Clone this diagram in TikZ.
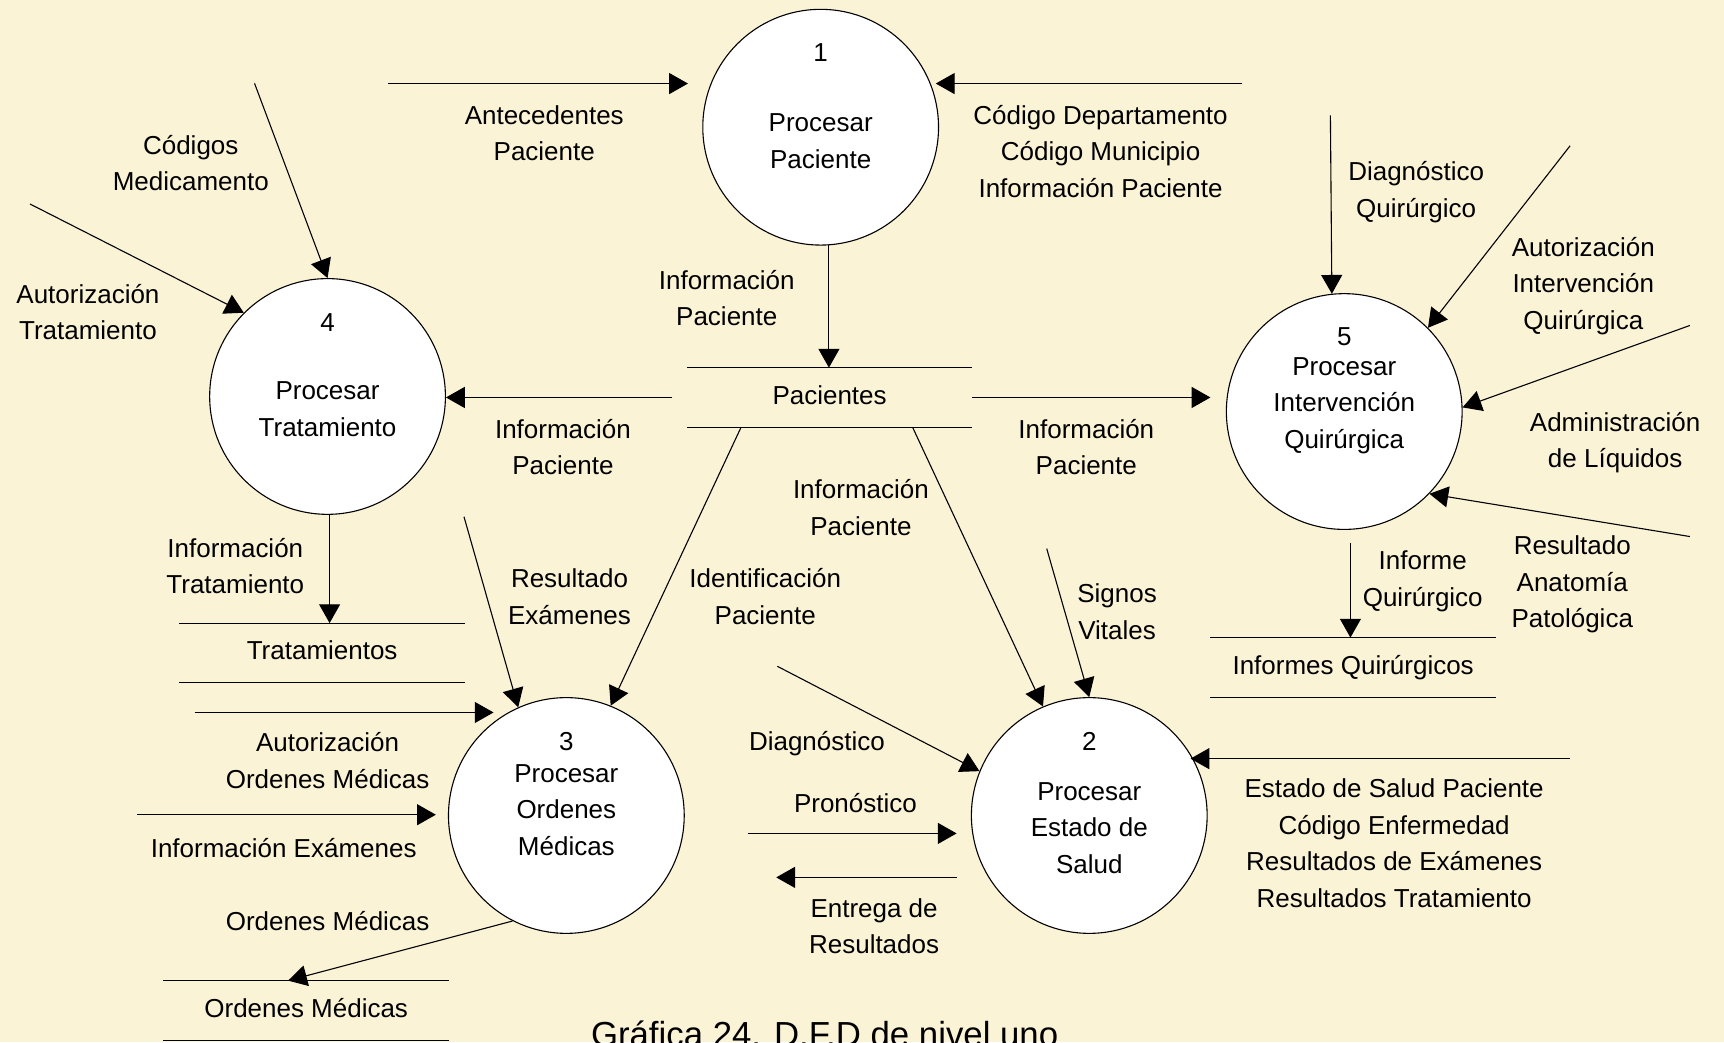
\documentclass[tikz,border=0pt]{standalone}
\usepackage{fontspec}
\setmainfont{Liberation Sans}
\usetikzlibrary{arrows.meta}
\newdimen\pxu \pxu=0.55pt
\definecolor{paper}{HTML}{FBF3D6}

\begin{document}
\begin{tikzpicture}[x=0.55pt, y=-0.55pt,
  every node/.style={font=\fontsize{13pt}{18.3pt}\selectfont, inner sep=0pt, align=center},
  proc/.style={circle, draw=black, line width=0.55pt, fill=white, minimum size=214.4\pxu},
  store/.style={minimum width=259\pxu, minimum height=53.5\pxu, text height=9.3pt, text depth=2.5pt},
  flow/.style={draw=black, line width=0.55pt, -{Triangle[length=9.4pt,width=10.5pt]}},
  figcap/.style={font=\fontsize{17.4pt}{21pt}\selectfont, anchor=base}]

% page
\fill[paper] (0,0) rectangle (1568,948);
\useasboundingbox (0,0) rectangle (1568,948);
\clip (0,0) rectangle (1568,948);

% processes
\node[proc] (p1) at (746.4,115.7) {};
\node[proc] (p4) at (297.9,360.6) {};
\node[proc] (p5) at (1222.6,374.3) {};
\node[proc] (p3) at (515.1,741.7) {};
\node[proc] (p2) at (990.7,741.7) {};

\node (p1n) at (746.4,47.9) {1};
\node (p1t) at (746.4,128.2) {Procesar\\Paciente};
\node (p4n) at (297.9,293.5) {4};
\node (p4t) at (297.9,372) {Procesar\\Tratamiento};
\node (p5n) at (1222.6,306.5) {5};
\node (p5t) at (1222.6,368.8) {Procesar\\Intervención\\Quirúrgica};
\node (p3n) at (515.1,674) {3};
\node (p3t) at (515.1,736.8) {Procesar\\Ordenes\\Médicas};
\node (p2n) at (990.7,674) {2};
\node (p2t) at (990.7,753) {Procesar\\Estado de\\Salud};

% data stores
\node[store] (pac)  at (754.5,361.5) {Pacientes};
\node[store] (trat) at (293,593.8)   {Tratamientos};
\node[store] (infq) at (1230.7,607)  {Informes Quirúrgicos};
\node[store] (ordm) at (278.5,919)   {Ordenes Médicas};
\foreach \s in {pac,trat,infq,ordm}
  \draw[line width=0.55pt] (\s.north west) -- (\s.north east)
                           (\s.south west) -- (\s.south east);

% free ends of the flows
\coordinate (a1)  at (353,76);
\coordinate (a2)  at (1130,76);
\coordinate (a8)  at (231.5,75.8);
\coordinate (a9)  at (27.2,185.5);
\coordinate (a11) at (422,470);
\coordinate (a12) at (177,648);
\coordinate (a13) at (125,741);
\coordinate (a15) at (707,606);
\coordinate (a16) at (680,758);
\coordinate (a17) at (706,798);
\coordinate (a18) at (952,499);
\coordinate (a19) at (1428,690);
\coordinate (a20) at (1210,105);
\coordinate (a21) at (1428,132.6);
\coordinate (a22) at (1537,296);
\coordinate (a23) at (1537,488);

% flows around process 1
\draw[flow, shorten >=13\pxu] (a1) -- (a1 -| p1.west);
\draw[flow, shorten >=-3\pxu] (a2) -- (a2 -| p1.east);
\draw[flow] (p1.-86.6) -- (p1.-86.6 |- pac.north);

% flows out of the patient store
\draw[flow, shorten <=13\pxu] (pac.west) -- (pac.west -| p4.east);
\draw[flow, shorten >=14\pxu] (pac.east) -- (pac.east -| p5.west);
\draw[flow] ([xshift=-80.5\pxu]pac.south) -- (p3.68);
\draw[flow] ([xshift=75.5\pxu]pac.south) -- (p2.113);

% process 4
\draw[flow] (a8) -- (p4.north);
\draw[flow] (a9) -- (p4.135);
\draw[flow] (p4.-89) -- (p4.-89 |- trat.north);

% process 3
\draw[flow] (a11) -- (p3.114);
\draw[flow, shorten >=14\pxu] (a12) -- (a12 -| p3.119.1);
\draw[flow, shorten >=11\pxu] (a13) -- (a13 -| p3.west);
\draw[flow] (p3.-117) -- ([xshift=-16.5\pxu]ordm.north);

% process 2
\draw[flow] (a15) -- (p2.158);
\draw[flow, shorten >=14\pxu] (a16) -- (a16 -| p2.188.7);
\draw[flow, shorten <=28\pxu] (p2.211.7 |- a17) -- (a17);
\draw[flow] (a18) -- (p2.north);
\draw[flow, shorten >=-3\pxu] (a19) -- (a19 -| p2.28.9);

% process 5
\draw[flow] (a20) -- (p5.96.75);
\draw[flow] (a21) -- (p5.45);
\draw[flow] (a22) -- (p5.2);
\draw[flow] (a23) -- (p5.-44);
\draw[flow, shorten <=12\pxu] (p5.-87.4) -- (p5.-87.4 |- infq.north);

% flow labels
\node (l1)  at (495,121)    {Antecedentes\\Paciente};
\node (l2)  at (1001,137.5) {Código Departamento\\Código Municipio\\Información Paciente};
\node (l3)  at (661,271)    {Información\\Paciente};
\node (l4)  at (512,406.5)  {Información\\Paciente};
\node (l5)  at (988,406.5)  {Información\\Paciente};
\node (l6)  at (696,542.5)  {Identificación\\Paciente};
\node (l7)  at (783,461.5)  {Información\\Paciente};
\node (l8)  at (173.5,148.5) {Códigos\\Medicamento};
\node (l9)  at (80,284)     {Autorización\\Tratamiento};
\node (l10) at (214,515)    {Información\\Tratamiento};
\node (l11) at (518,542.5)  {Resultado\\Exámenes};
\node (l12) at (298,692)    {Autorización\\Ordenes Médicas};
\node (l13) at (258,771)    {Información Exámenes};
\node (l14) at (298,838)    {Ordenes Médicas};
\node (l15) at (743,676)    {Diagnóstico};
\node (l16) at (778,730)    {Pronóstico};
\node (l17) at (795,842.5)  {Entrega de\\Resultados};
\node (l18) at (1016,556.5) {Signos\\Vitales};
\node (l19) at (1268,767)   {Estado de Salud Paciente\\Código Enfermedad\\Resultados de Exámenes\\Resultados Tratamiento};
\node (l20) at (1288,174.5) {Diagnóstico\\Quirúrgico};
\node (l21) at (1440,260)   {Autorización\\Intervención\\Quirúrgica};
\node (l22) at (1469,402.5) {Administración\\de Líquidos};
\node (l23) at (1430,531.5) {Resultado\\Anatomía\\Patológica};
\node (l24) at (1294,528.5) {Informe\\Quirúrgico};

% caption, running off the lower edge of the page
\node[figcap] (cap) at (750,952) {Gráfica 24. D.F.D de nivel uno};
\end{tikzpicture}
\end{document}
